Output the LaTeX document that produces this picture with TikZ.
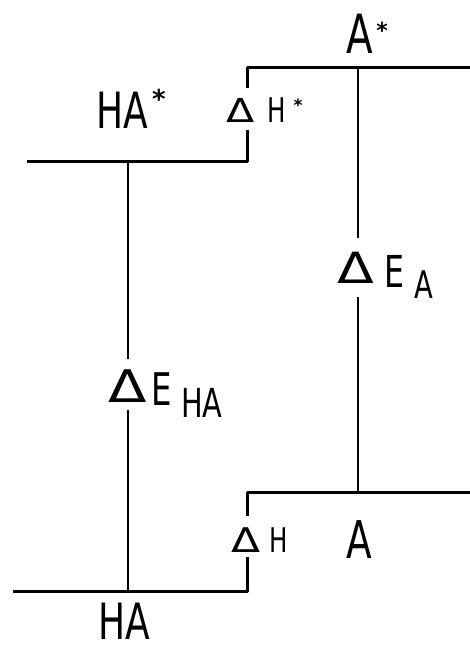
\documentclass[tikz,border=0pt]{standalone}
\usepackage{fontspec}
\setmainfont{DejaVu Sans}
\newfontfamily\lab[FakeStretch=0.72]{DejaVu Sans}
\newfontfamily\dfont[FakeStretch=1.25]{DejaVu Sans}
\newfontfamily\sfont{DejaVu Sans Bold}
\usetikzlibrary{calc}
\newcommand\fsz[1]{\fontsize{#1}{#1}\selectfont}
\begin{document}
\begin{tikzpicture}[x=1pt,y=-1pt,
  lvl/.style={line width=3pt,line join=round},
  eline/.style={line width=2pt},
  txt/.style={inner sep=0pt,anchor=base west},
  tri/.style={inner sep=0pt,anchor=base},
  astk/.style={inner sep=0pt,anchor=north}]
\useasboundingbox (0,0) rectangle (470,645);
% level coordinates
\coordinate (hal) at (13,591);
\coordinate (har) at (247,591);
\coordinate (al) at (247,492);
\coordinate (ar) at (470,492);
\coordinate (hsl) at (27,161);
\coordinate (hsr) at (247,161);
\coordinate (asl) at (247,67);
\coordinate (asr) at (470,67);
\coordinate (ehaTop) at (128,161);
\coordinate (ehaBot) at (128,591);
\coordinate (eaTop) at (358,67);
\coordinate (eaBot) at (358,492);
% delta nodes
\node[tri,font=\dfont\fsz{45}] (dEHA) at (127.5,402) {Δ};
\node[tri,font=\dfont\fsz{43}] (dEA) at (355.5,283) {Δ};
\node[tri,font=\dfont\fsz{34}] (dH) at (246,552) {Δ};
\node[tri,font=\dfont\fsz{33}] (dHs) at (241,122) {Δ};
% texts
\node[txt,font=\lab\fsz{45}] (EHA) at (151,405) {E};
\node[txt,font=\lab\fsz{40}] (EHAsub) at (181,417) {HA};
\node[txt,font=\lab\fsz{44}] (EA) at (384,287) {E};
\node[txt,font=\lab\fsz{38}] (EAsub) at (414,298) {A};
\node[txt,font=\lab\fsz{34}] (Hl) at (269,552) {H};
\node[txt,font=\lab\fsz{34}] (Hs) at (267,122) {H};
\node[astk,font=\sfont\fsz{17}] (Hsstar) at (298,99) {*};
\node[txt,font=\lab\fsz{50}] (HAlab) at (98,639) {HA};
\node[txt,font=\lab\fsz{52}] (Alab) at (346,558) {A};
\node[txt,font=\lab\fsz{50}] (HAslab) at (96,128) {HA};
\node[astk,font=\sfont\fsz{26}] (HAstar) at (159,89) {*};
\node[txt,font=\lab\fsz{54}] (Aslab) at (346,53) {A};
\node[astk,font=\sfont\fsz{22}] (Astar) at (382,22) {*};
% levels and steps
\draw[lvl] (hal) -- (har) -- ($(dH.south -| har)+(0,5)$);
\draw[lvl] ($(dH.north -| al)+(0,-11)$) -- (al) -- (ar);
\draw[lvl] (hsl) -- (hsr) -- ($(dHs.south -| hsr)+(0,8)$);
\draw[lvl] ($(dHs.north -| asl)+(0,-10)$) -- (asl) -- (asr);
% energy gaps
\draw[eline] (ehaTop) -- ($(dEHA.north -| ehaTop)+(0,-10)$);
\draw[eline] ($(dEHA.south -| ehaBot)+(0,8)$) -- (ehaBot);
\draw[eline] (eaTop) -- ($(dEA.north -| eaTop)+(0,-13)$);
\draw[eline] ($(dEA.south -| eaBot)+(0,14)$) -- (eaBot);
\end{tikzpicture}
\end{document}
